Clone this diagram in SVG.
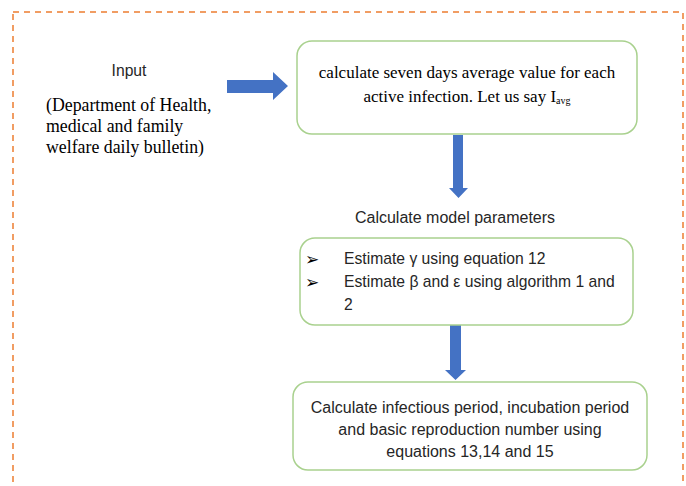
<svg xmlns="http://www.w3.org/2000/svg" width="686" height="486" viewBox="0 0 686 486">
<style>
.box{fill:#fff;stroke:#a9d18e;stroke-width:1.5}
.sans{font-family:"Liberation Sans","DejaVu Sans",sans-serif;font-size:15.7px;fill:#262626}
.big{font-size:16px}
.serif{font-family:"Liberation Serif","DejaVu Serif",serif;font-size:17px;fill:#000}
.par{font-size:17.8px}
.sub{font-size:10px}
.bullet{font-family:"DejaVu Sans",sans-serif;font-size:17px;fill:#000}
.arrow{fill:#4472c4}
</style>
<rect x="0" y="0" width="686" height="486" fill="#fff"/>
<rect x="13" y="12" width="670" height="500" fill="none" stroke="#ed7d31" stroke-width="1.5" stroke-dasharray="6,5"/>
<g id="input">
<text class="sans" x="129" y="76" text-anchor="middle">Input</text>
<text class="serif par" x="46" y="111">(Department of Health,</text>
<text class="serif par" x="46" y="132">medical and family</text>
<text class="serif par" x="46" y="153">welfare daily bulletin)</text>
</g>
<g id="connectors">
<polygon class="arrow" points="227,80 273,80 273,72 288,86 273,100 273,93 227,93"/>
<polygon class="arrow" points="453,135 463,135 463,188 468,188 458.5,198 449,188 453,188"/>
<polygon class="arrow" points="450,325 461,325 461,370 466,370 455.5,380 445,370 450,370"/>
</g>
<g id="average">
<rect class="box" x="297" y="41" width="340" height="93" rx="15"/>
<text class="serif" x="467" y="78" text-anchor="middle">calculate seven days average value for each</text>
<text class="serif" x="467" y="102" text-anchor="middle">active infection. Let us say I<tspan class="sub" dy="2">avg</tspan></text>
</g>
<g id="params">
<text class="sans big" x="455" y="223" text-anchor="middle">Calculate model parameters</text>
<rect class="box" x="300" y="238" width="333" height="87" rx="15"/>
<text class="bullet" x="305" y="265">➢</text>
<text class="sans" x="344" y="264">Estimate γ using equation 12</text>
<text class="bullet" x="305" y="288">➢</text>
<text class="sans" x="344" y="287">Estimate β and ε using algorithm 1 and</text>
<text class="sans" x="344" y="310">2</text>
</g>
<g id="result">
<rect class="box" x="293" y="382" width="354" height="88" rx="15"/>
<text class="sans big" x="470" y="413" text-anchor="middle">Calculate infectious period, incubation period</text>
<text class="sans big" x="470" y="435" text-anchor="middle">and basic reproduction number using</text>
<text class="sans big" x="470" y="457" text-anchor="middle">equations 13,14 and 15</text>
</g>
</svg>
